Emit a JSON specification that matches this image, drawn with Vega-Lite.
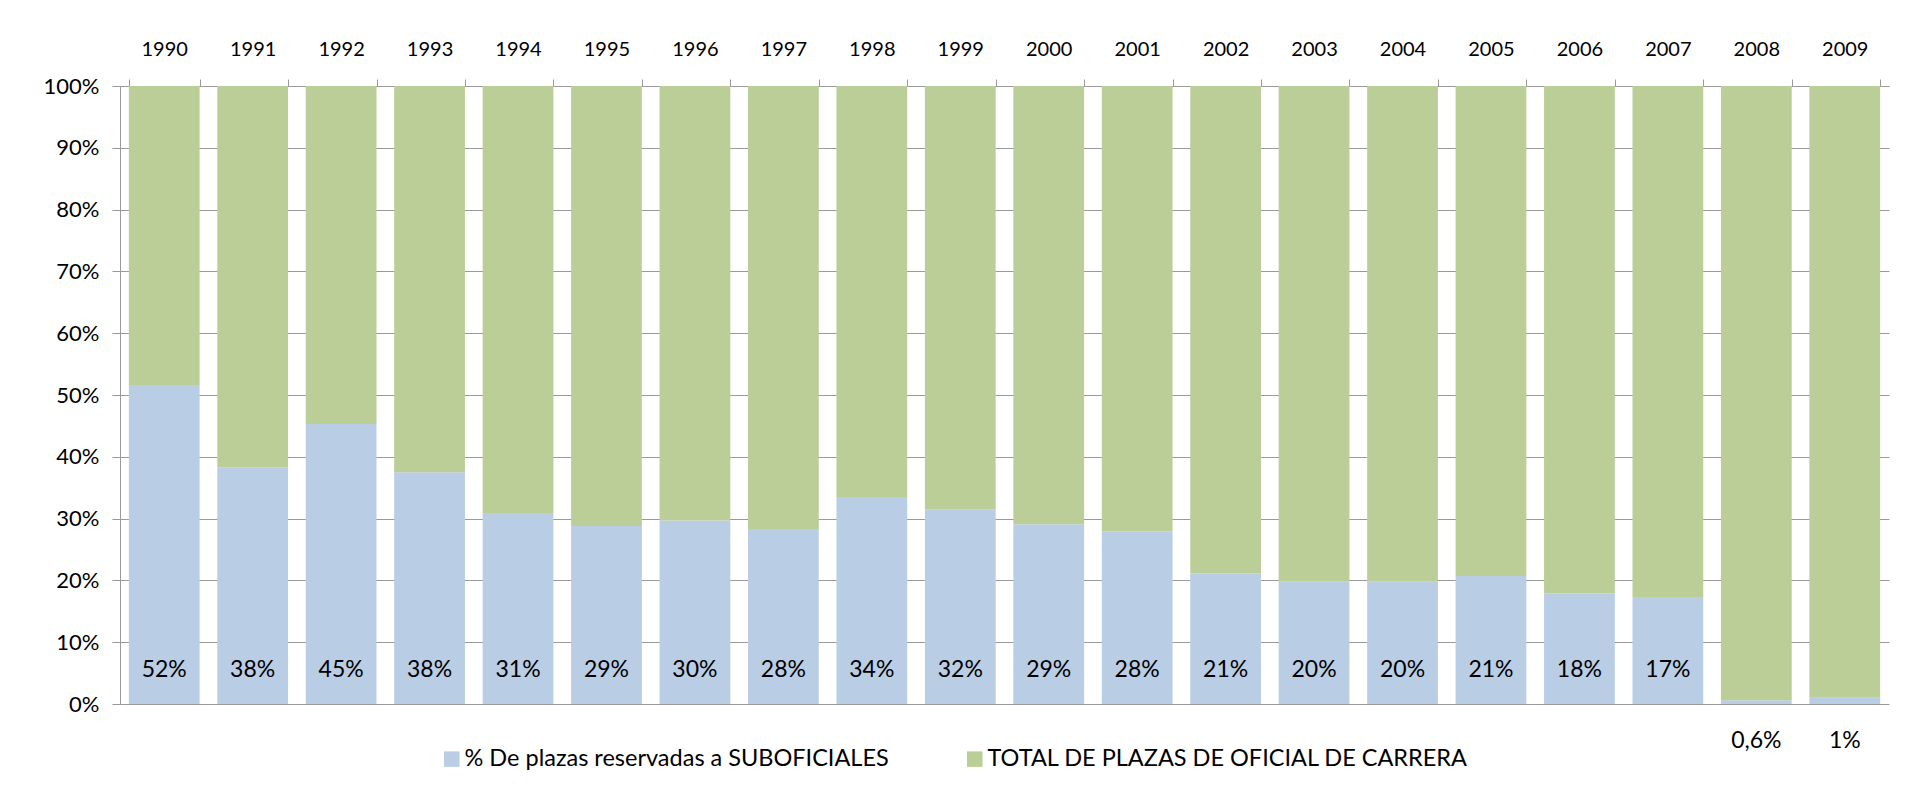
{
  "$schema": "https://vega.github.io/schema/vega-lite/v6.json",
  "width": 1769,
  "height": 618,
  "autosize": {"type": "none"},
  "padding": {"left": 120, "top": 86, "right": 26, "bottom": 100},
  "background": "white",
  "config": {
    "font": "Lato",
    "view": {"stroke": null},
    "axis": {"labelFont": "Lato", "labelColor": "#000000", "domainColor": "#9A9A9A", "tickColor": "#9A9A9A", "gridColor": "#9A9A9A", "title": null}
  },
  "data": {
    "values": [
      {"year": "1990", "value": 0.516, "label": "52%"},
      {"year": "1991", "value": 0.383, "label": "38%"},
      {"year": "1992", "value": 0.453, "label": "45%"},
      {"year": "1993", "value": 0.375, "label": "38%"},
      {"year": "1994", "value": 0.309, "label": "31%"},
      {"year": "1995", "value": 0.288, "label": "29%"},
      {"year": "1996", "value": 0.297, "label": "30%"},
      {"year": "1997", "value": 0.283, "label": "28%"},
      {"year": "1998", "value": 0.335, "label": "34%"},
      {"year": "1999", "value": 0.315, "label": "32%"},
      {"year": "2000", "value": 0.291, "label": "29%"},
      {"year": "2001", "value": 0.279, "label": "28%"},
      {"year": "2002", "value": 0.211, "label": "21%"},
      {"year": "2003", "value": 0.198, "label": "20%"},
      {"year": "2004", "value": 0.198, "label": "20%"},
      {"year": "2005", "value": 0.207, "label": "21%"},
      {"year": "2006", "value": 0.179, "label": "18%"},
      {"year": "2007", "value": 0.173, "label": "17%"},
      {"year": "2008", "value": 0.006, "label": "0,6%"},
      {"year": "2009", "value": 0.01, "label": "1%"}
    ]
  },
  "encoding": {
    "x": {
      "field": "year",
      "type": "ordinal",
      "scale": {"paddingInner": 0.2, "paddingOuter": 0.1},
      "axis": {
        "orient": "top",
        "labelAngle": 0,
        "labelFontSize": 20,
        "tickSize": 7,
        "tickBand": "extent",
        "labelPadding": 20,
        "domainColor": "#9A9A9A"
      }
    }
  },
  "layer": [
    {
      "mark": {"type": "bar"},
      "encoding": {
        "y": {
          "field": "value",
          "type": "quantitative",
          "stack": null,
          "scale": {"domain": [0, 1], "nice": false},
          "axis": {
            "values": [0, 0.1, 0.2, 0.3, 0.4, 0.5, 0.6, 0.7, 0.8, 0.9, 1],
            "format": ".0%",
            "labelFontSize": 22,
            "tickSize": 8,
            "labelPadding": 13,
            "grid": true,
            "gridColor": "#9A9A9A",
            "domainColor": "#9A9A9A"
          }
        },
        "y2": {"datum": 0},
        "color": {
          "datum": "% De plazas reservadas a SUBOFICIALES",
          "scale": {
            "domain": ["% De plazas reservadas a SUBOFICIALES", "TOTAL DE PLAZAS DE OFICIAL DE CARRERA"],
            "range": ["#B9CDE5", "#BBCE97"]
          },
          "legend": {
            "title": null,
            "orient": "none",
            "legendX": 320,
            "legendY": 661,
            "direction": "horizontal",
            "symbolType": "square",
            "symbolSize": 240,
            "symbolStrokeWidth": 0,
            "labelFont": "Lato",
            "labelFontSize": 23.5,
            "labelColor": "#000000",
            "labelLimit": 0,
            "columnPadding": 74,
            "labelOffset": 1
          }
        }
      }
    },
    {
      "mark": {"type": "bar"},
      "encoding": {
        "y": {"field": "value", "type": "quantitative"},
        "y2": {"datum": 1},
        "color": {"datum": "TOTAL DE PLAZAS DE OFICIAL DE CARRERA"}
      }
    },
    {
      "transform": [{"filter": "datum.value >= 0.05"}],
      "mark": {"type": "text", "font": "Lato", "fontSize": 23, "color": "#000000", "baseline": "middle"},
      "encoding": {
        "y": {"datum": 0.055},
        "text": {"field": "label"}
      }
    },
    {
      "transform": [{"filter": "datum.value < 0.05"}],
      "mark": {"type": "text", "font": "Lato", "fontSize": 23, "color": "#000000", "baseline": "middle"},
      "encoding": {
        "y": {"datum": -0.06},
        "text": {"field": "label"}
      }
    }
  ]
}
